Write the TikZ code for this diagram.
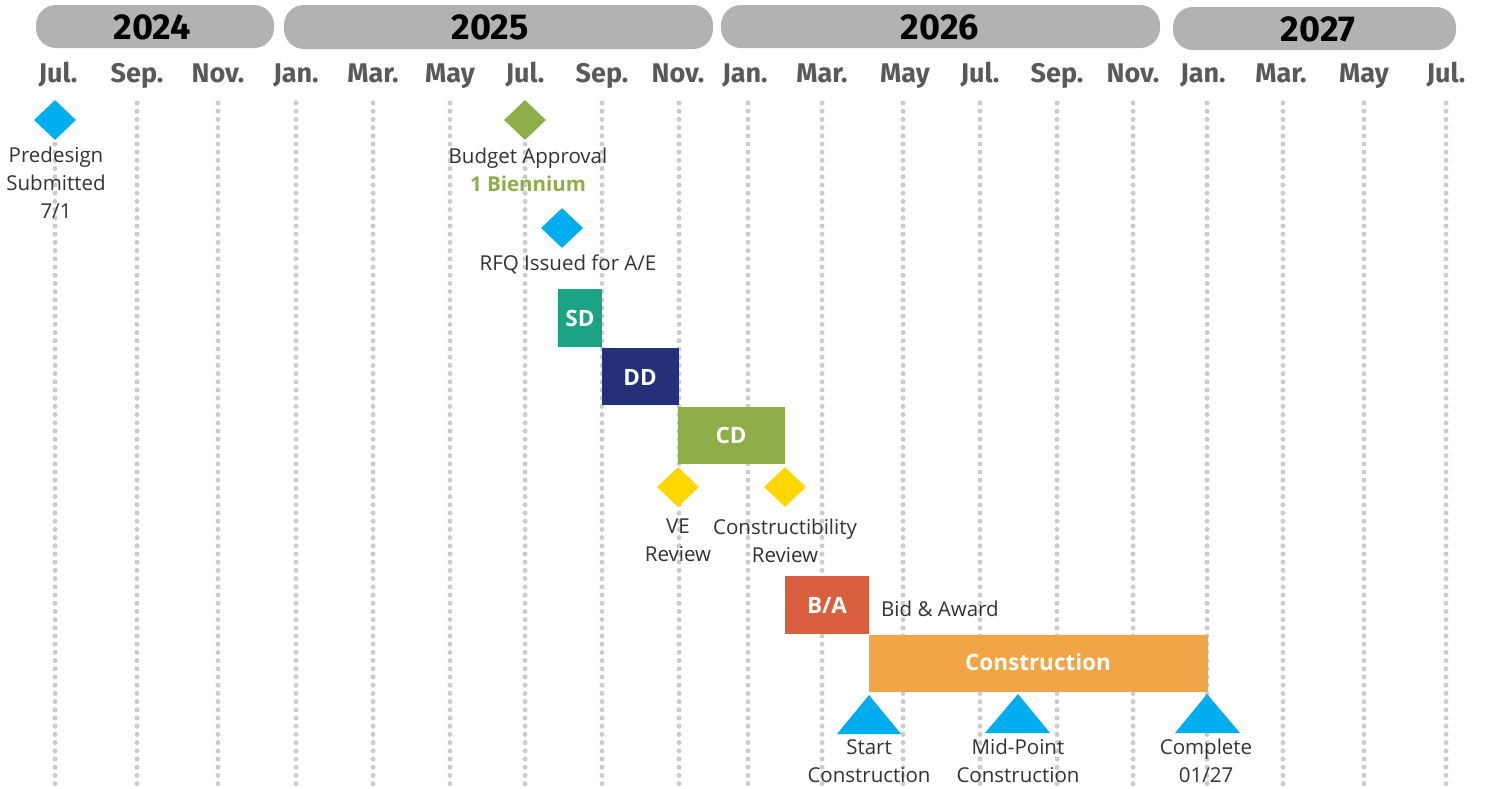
\documentclass[tikz,border=0pt]{standalone}
\usepackage{fontspec}
\setmainfont{Open Sans}
\newfontfamily\hdr{Fira Sans}
\usetikzlibrary{shapes.geometric}
\definecolor{yearbar}{HTML}{B1B2B4}
\definecolor{monthc}{HTML}{58595B}
\definecolor{dotc}{HTML}{CCCCCC}
\definecolor{txt}{HTML}{333333}
\definecolor{blu}{HTML}{00AEEF}
\definecolor{grn}{HTML}{8FAD48}
\definecolor{ylw}{HTML}{FFD700}
\definecolor{sdc}{HTML}{1BA385}
\definecolor{ddc}{HTML}{243077}
\definecolor{bac}{HTML}{DA5F3E}
\definecolor{coc}{HTML}{F2A546}
\tikzset{
  yearpill/.style={fill=yearbar, rounded corners=20pt},
  yeartxt/.style={font=\hdr\bfseries\fontsize{36}{40}\selectfont, text=black, inner sep=0},
  monthtxt/.style={font=\hdr\bfseries\fontsize{27}{30}\selectfont, text=monthc, inner sep=0, anchor=base},
  dotline/.style={dotc, line width=5pt, line cap=round, dash pattern=on 0pt off 8.2pt},
  milestone/.style={shape=diamond, aspect=1, minimum width=42pt, minimum height=40pt, inner sep=0, draw=none},
  lbl/.style={font=\fontsize{20.5}{28}\selectfont, text=txt, align=center, inner sep=0, anchor=base},
  bar/.style={font=\bfseries\fontsize{22.5}{24}\selectfont, text=white, inner sep=0},
}
\begin{document}
\begin{tikzpicture}[x=1pt,y=-1pt]
\useasboundingbox (0,0) rectangle (1489,788);
% year pills
\fill[yearpill] (36,5) rectangle (274,48);
\fill[yearpill] (284,5) rectangle (713,49);
\fill[yearpill] (721,5) rectangle (1160,48);
\fill[yearpill] (1173,7) rectangle (1456,50);
\node[yeartxt] (y24) at (152,27) {2024};
\node[yeartxt] (y25) at (490,27) {2025};
\node[yeartxt] (y26) at (940,27) {2026};
\node[yeartxt] (y27) at (1318,29) {2027};
% months
\foreach \x/\m/\n in {58/Jul./m1,137/Sep./m2,218/Nov./m3,296/Jan./m4,373/Mar./m5,450/May/m6,525/Jul./m7,602/Sep./m8,678/Nov./m9,745/Jan./m10,822/Mar./m11,905/May/m12,980/Jul./m13,1057/Sep./m14,1133/Nov./m15,1203/Jan./m16,1281/Mar./m17,1364/May/m18,1446/Jul./m19}
  \node[monthtxt] (\n) at (\x,82) {\m};
% dotted grid
\foreach \x in {55,137,218,296,373,450,525,602,679,748,822,903,980,1057,1133,1207,1283,1364,1446}
  \draw[dotline] (\x,103) -- (\x,785);
% milestones
\node[milestone, fill=blu] (pd) at (55,120) {};
\node[lbl] (pdl) at (56,218) {Predesign\\Submitted\\7/1};
\node[milestone, fill=grn] (ba) at (525,120) {};
\node[lbl] (bal) at (528,191) {Budget Approval\\{\bfseries\color{grn}1 Biennium}};
\node[milestone, fill=blu] (rfq) at (562,228) {};
\node[lbl] (rfql) at (568,270) {RFQ Issued for A/E};
% bars
\fill[sdc] (558,289) rectangle (602,347);
\node[bar] (sd) at (580,318) {SD};
\fill[ddc] (602,348) rectangle (679,405);
\node[bar] (dd) at (640,377) {DD};
\fill[grn] (678,407) rectangle (785,464);
\node[bar] (cd) at (731,435) {CD};
\node[milestone, fill=ylw] (ve) at (678,487) {};
\node[lbl] (vel) at (678,561) {VE\\Review};
\node[milestone, fill=ylw] (cr) at (785,487) {};
\node[lbl] (crl) at (785,562) {Constructibility\\Review};
\fill[bac] (785,576) rectangle (869,634);
\node[bar] (bab) at (827,605) {B/A};
\node[lbl, anchor=base west] (bal2) at (881,616) {Bid \& Award};
\fill[coc] (869,635) rectangle (1208,692);
\node[bar] (con) at (1038,662) {Construction};
% triangles
\fill[blu] (869,695) -- (837,734) -- (901,734) -- cycle;
\fill[blu] (1018,694) -- (985,733) -- (1050,733) -- cycle;
\fill[blu] (1207,694) -- (1175,733) -- (1240,733) -- cycle;
\node[lbl] (stl) at (869,782) {Start\\Construction};
\node[lbl] (mpl) at (1018,782) {Mid-Point\\Construction};
\node[lbl] (cpl) at (1206,782) {Complete\\01/27};
\end{tikzpicture}
\end{document}
